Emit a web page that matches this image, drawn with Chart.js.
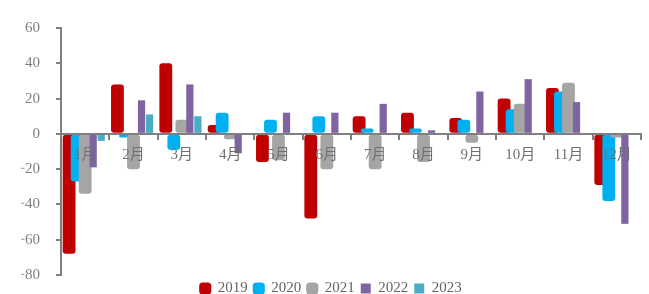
<!DOCTYPE html>
<html>
<head>
<meta charset="utf-8">
<script src="https://cdn.jsdelivr.net/npm/chart.js@4"></script>
<style>
  html, body { margin: 0; padding: 0; background: #fff; overflow: hidden; }
  #wrap { width: 649px; height: 300px; }
</style>
</head>
<body>
<div id="wrap"><canvas id="chart"></canvas></div>
<script>
// 月份
var months = ["1月", "2月", "3月", "4月", "5月", "6月", "7月", "8月", "9月", "10月", "11月", "12月"];

// 各年数据
var y2019 = [-68, 28, 40, 5, -16, -48, 10, 12, 9, 20, 26, -29];
var y2020 = [-27, -2, -9, 12, 8, 10, 3, 3, 8, 14, 24, -38];
var y2021 = [-34, -20, 8, -3, -15, -20, -20, -16, -5, 17, 29, -2];
var y2022 = [-19, 19, 28, -11, 12, 12, 17, 2, 24, 31, 18, -51];
var y2023 = [-4, 11, 10, null, null, null, null, null, null, null, null, null];

var yTicks = [-80, -60, -40, -20, 0, 20, 40, 60];

var grey = "#7f7f7f";
var serif = "'Liberation Serif', 'Noto Sans CJK SC', serif";

// 按数据集顺序绘制（后面的盖住前面的）
var drawInOrder = {
  id: "drawInOrder",
  beforeDatasetsDraw: function (chart) {
    chart.data.datasets.forEach(function (ds, i) {
      var meta = chart.getDatasetMeta(i);
      if (!meta.hidden) meta.controller.draw();
    });
    return false;
  }
};

// 图例高度固定，让绘图区往下伸
var legendHeight = {
  id: "legendHeight",
  beforeLayout: function (chart) {
    var lg = chart.legend;
    if (lg && !lg._patched) {
      var fit = lg.fit;
      lg.fit = function () {
        fit.call(this);
        this.height = 20;
      };
      lg._patched = true;
    }
  }
};

function wide(label, data, color) {
  return {
    label: label, data: data, backgroundColor: color,
    barPercentage: 1.6, borderRadius: 3, borderSkipped: false
  };
}
function narrow(label, data, color) {
  return {
    label: label, data: data, backgroundColor: color,
    barPercentage: 0.9
  };
}

var ctx = document.getElementById("chart").getContext("2d");
new Chart(ctx, {
  type: "bar",
  data: {
    labels: months,
    datasets: [
      wide("2019", y2019, "#c00000"),
      wide("2020", y2020, "#00b0f0"),
      wide("2021", y2021, "#a5a5a5"),
      narrow("2022", y2022, "#8064a2"),
      narrow("2023", y2023, "#4bacc6")
    ]
  },
  options: {
    responsive: true,
    maintainAspectRatio: false,
    animation: false,
    layout: { padding: { top: 28, right: 8, left: 21, bottom: 0 } },
    datasets: { bar: { categoryPercentage: 0.83 } },
    scales: {
      x: {
        position: { y: 0 },
        afterFit: function (scale) { scale.height = 0; },
        grid: { z: 1, offset: true, drawOnChartArea: false, tickLength: 5, color: grey, lineWidth: 2 },
        border: { z: 1, color: grey, width: 2 },
        ticks: { z: 1, color: "#707070", font: { family: serif, size: 15 }, padding: 7, maxRotation: 0, autoSkip: false }
      },
      y: {
        min: -80,
        max: 60,
        afterBuildTicks: function (scale) {
          scale.ticks = yTicks.map(function (v) { return { value: v }; });
        },
        afterFit: function (scale) { scale.width = 40; },
        grid: { drawOnChartArea: false, tickLength: 5, color: grey, lineWidth: 2 },
        border: { color: grey, width: 2 },
        ticks: {
          color: grey,
          padding: 16,
          font: { family: serif, size: 15 },
          callback: function (v) { return String(v).replace("-", "\u2212"); }
        }
      }
    },
    plugins: {
      tooltip: { enabled: false },
      legend: {
        position: "bottom",
        labels: {
          color: "#666",
          font: { family: serif, size: 15 },
          usePointStyle: true,
          boxWidth: 10,
          boxHeight: 10,
          padding: 6,
          generateLabels: function (chart) {
            var items = Chart.defaults.plugins.legend.labels.generateLabels(chart);
            items.forEach(function (it, i) {
              it.pointStyle = i < 3 ? "rectRounded" : "rect";
              it.lineWidth = 0;
            });
            return items;
          }
        }
      }
    }
  },
  plugins: [legendHeight, drawInOrder]
});
</script>
</body>
</html>
